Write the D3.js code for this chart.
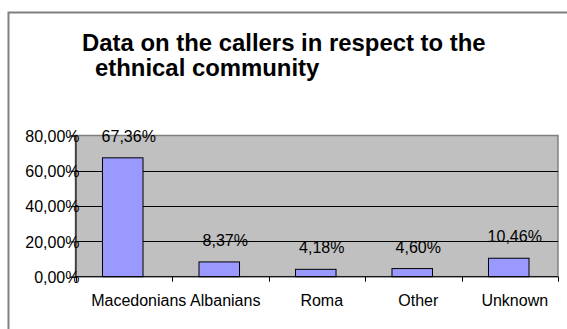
<!DOCTYPE html>
<html>
<head>
<meta charset="utf-8">
<script src="https://cdn.jsdelivr.net/npm/d3@7"></script>
<style>
  body { margin: 0; background: #fff; }
  svg text { font-family: "Liberation Sans", Arial, sans-serif; fill: #000; }
</style>
</head>
<body>
<svg id="chart" width="567" height="329"></svg>
<script>
// datos del gráfico
const categories = ["Macedonians", "Albanians", "Roma", "Other", "Unknown"];
const values = [67.36, 8.37, 4.18, 4.60, 10.46];
const valueLabels = ["67,36%", "8,37%", "4,18%", "4,60%", "10,46%"];
const yTicks = [0, 20, 40, 60, 80];
const yTickLabels = ["0,00%", "20,00%", "40,00%", "60,00%", "80,00%"];
const titleLines = ["Data on the callers in respect to the", "ethnical community"];

const svg = d3.select("#chart");

// marco exterior
svg.append("rect")
    .attr("x", 8.5).attr("y", 12.5)
    .attr("width", 620).attr("height", 400)
    .attr("fill", "none")
    .attr("stroke", "#808080")
    .attr("stroke-width", 2);

// título
svg.append("text")
    .attr("x", 82).attr("y", 51)
    .attr("font-size", 23.9).attr("font-weight", "bold")
    .text(titleLines[0]);
svg.append("text")
    .attr("x", 95).attr("y", 75.5)
    .attr("font-size", 23.9).attr("font-weight", "bold")
    .text(titleLines[1]);

const plotLeft = 75.5, plotRight = 558, plotTop = 135.5, plotBottom = 276.7;

const x = d3.scaleBand()
    .domain(categories)
    .range([plotLeft, plotRight])
    .paddingInner(0.58)
    .paddingOuter(0.29);

const y = d3.scaleLinear()
    .domain([0, 80])
    .range([plotBottom, plotTop]);

// área del gráfico
svg.append("rect")
    .attr("x", plotLeft).attr("y", plotTop)
    .attr("width", plotRight - plotLeft).attr("height", plotBottom - plotTop)
    .attr("fill", "#c0c0c0")
    .attr("stroke", "#808080")
    .attr("stroke-width", 1.5);

// líneas de la cuadrícula
svg.selectAll(".grid")
    .data(yTicks.filter(d => d > 0 && d < 80))
    .enter()
    .append("line")
    .attr("x1", plotLeft).attr("x2", plotRight)
    .attr("y1", d => Math.round(y(d)) + 0.5)
    .attr("y2", d => Math.round(y(d)) + 0.5)
    .attr("stroke", "#000");

// barras
svg.selectAll(".bar")
    .data(values)
    .enter()
    .append("rect")
    .attr("x", (d, i) => x(categories[i]) - 1)
    .attr("y", d => y(d))
    .attr("width", x.bandwidth())
    .attr("height", d => plotBottom - y(d))
    .attr("fill", "#9999ff")
    .attr("stroke", "#000")
    .attr("stroke-width", 1);

// etiquetas de valores
svg.selectAll(".vlabel")
    .data(values)
    .enter()
    .append("text")
    .attr("x", (d, i) => x(categories[i]) + x.bandwidth() / 2 + 5)
    .attr("y", d => y(d) - 16)
    .attr("text-anchor", "middle")
    .attr("font-size", 16)
    .text((d, i) => valueLabels[i]);

// eje Y
const yAxis = d3.axisLeft(y)
    .tickValues(yTicks)
    .tickFormat((d, i) => yTickLabels[i])
    .tickSize(5)
    .tickPadding(-9);
const gy = svg.append("g")
    .attr("transform", `translate(${plotLeft},0)`)
    .call(yAxis);
gy.select(".domain").attr("stroke", "#000");
gy.selectAll(".tick line").attr("stroke", "#000");
gy.selectAll(".tick text").attr("font-size", 16).attr("font-family", null).attr("dy", "0.35em");

// eje X
const bounds = d3.range(categories.length + 1).map(i => plotLeft + i * (plotRight - plotLeft) / categories.length);
svg.append("line")
    .attr("x1", plotLeft).attr("x2", plotRight)
    .attr("y1", plotBottom).attr("y2", plotBottom)
    .attr("stroke", "#000");
svg.selectAll(".xtick")
    .data(bounds)
    .enter()
    .append("line")
    .attr("x1", d => Math.round(d) + 0.5).attr("x2", d => Math.round(d) + 0.5)
    .attr("y1", plotBottom).attr("y2", plotBottom + 5)
    .attr("stroke", "#000");
svg.selectAll(".xlabel")
    .data(categories)
    .enter()
    .append("text")
    .attr("x", d => x(d) + x.bandwidth() / 2 + (d === "Macedonians" ? 15 : 5))
    .attr("y", 306)
    .attr("text-anchor", "middle")
    .attr("font-size", 16)
    .text(d => d);
</script>
</body>
</html>
